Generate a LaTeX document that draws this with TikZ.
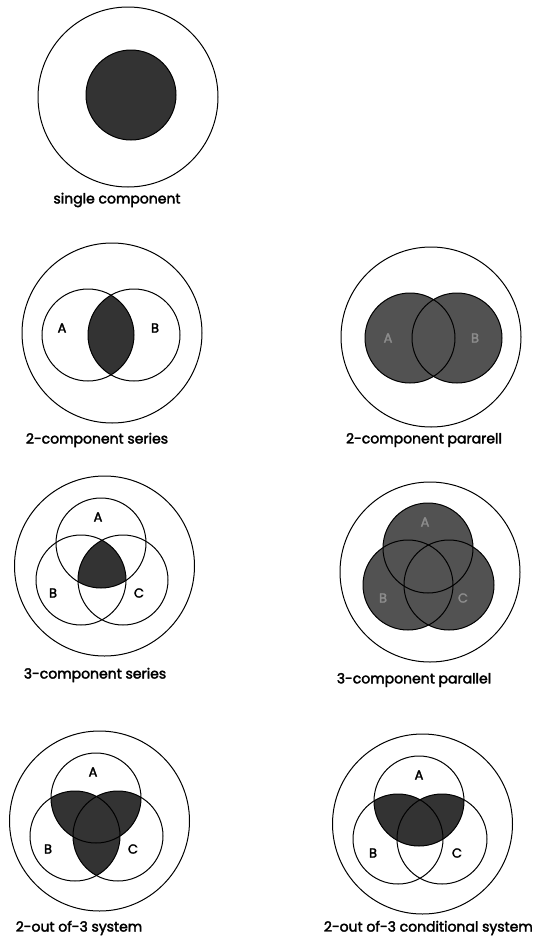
\documentclass[tikz,border=0pt]{standalone}
\usepackage{fontspec}
\setmainfont{Poppins}[UprightFeatures={FakeBold=2.5}]
\tikzset{
  ring/.style={draw=black, line width=1pt},
  dk/.style={fill=black!80},
  md/.style={fill=black!68},
  captext/.style={font=\fontsize{14}{16}\selectfont, inner sep=0pt},
  lettext/.style={font=\fontsize{13}{14}\selectfont, inner sep=0pt},
}
\begin{document}
\begin{tikzpicture}[x=1pt,y=-1pt]
\useasboundingbox (0,0) rectangle (535,937);

% ---------- single component
\coordinate (sO) at (128,97);
\coordinate (sI) at (131,95);
\fill[dk] (sI) circle[radius=45pt];
\draw[ring] (sO) circle[radius=90pt];
\draw[ring] (sI) circle[radius=45pt];
\node[captext] (sL) at (117,200) {single component};

% ---------- 2-component series
\coordinate (aO) at (112,333);
\coordinate (aA) at (88,335);
\coordinate (aB) at (134,335);
\begin{scope}
  \clip (aA) circle[radius=46pt];
  \fill[dk] (aB) circle[radius=46pt];
\end{scope}
\draw[ring] (aO) circle[radius=90pt];
\draw[ring] (aA) circle[radius=46pt];
\draw[ring] (aB) circle[radius=46pt];
\node[lettext] (aLA) at (62,328) {A};
\node[lettext] (aLB) at (155,328) {B};
\node[captext] (aL) at (97,440) {2-component series};

% ---------- 2-component parallel
\coordinate (bO) at (431,337);
\coordinate (bA) at (410,338);
\coordinate (bB) at (457,338);
\fill[md] (bA) circle[radius=45pt];
\fill[md] (bB) circle[radius=45pt];
\draw[ring] (bO) circle[radius=90pt];
\draw[ring] (bA) circle[radius=45pt];
\draw[ring] (bB) circle[radius=45pt];
\node[lettext, text=black!45] (bLA) at (388,338) {A};
\node[lettext, text=black!45] (bLB) at (475,338) {B};
\node[captext] (bL) at (424,440) {2-component pararell};

% ---------- 3-component series
\coordinate (cO) at (104.5,566);
\coordinate (cA) at (101,543);
\coordinate (cB) at (81,580);
\coordinate (cC) at (123,580);
\begin{scope}
  \clip (cA) circle[radius=45pt];
  \clip (cB) circle[radius=45pt];
  \fill[dk] (cC) circle[radius=45pt];
\end{scope}
\draw[ring] (cO) circle[radius=90pt];
\draw[ring] (cA) circle[radius=45pt];
\draw[ring] (cB) circle[radius=45pt];
\draw[ring] (cC) circle[radius=45pt];
\node[lettext] (cLA) at (98,517) {A};
\node[lettext] (cLB) at (53,593) {B};
\node[lettext] (cLC) at (139,593) {C};
\node[captext] (cL) at (95,675) {3-component series};

% ---------- 3-component parallel
\coordinate (dO) at (430,572);
\coordinate (dA) at (428,548);
\coordinate (dB) at (408,585);
\coordinate (dC) at (449,585);
\fill[md] (dA) circle[radius=45pt];
\fill[md] (dB) circle[radius=45pt];
\fill[md] (dC) circle[radius=45pt];
\draw[ring] (dO) circle[radius=90pt];
\draw[ring] (dA) circle[radius=45pt];
\draw[ring] (dB) circle[radius=45pt];
\draw[ring] (dC) circle[radius=45pt];
\node[lettext, text=black!45] (dLA) at (425,522) {A};
\node[lettext, text=black!45] (dLB) at (383,598) {B};
\node[lettext, text=black!45] (dLC) at (463,598) {C};
\node[captext] (dL) at (414,680) {3-component parallel};

% ---------- 2-out of-3 system
\coordinate (eO) at (99.5,821);
\coordinate (eA) at (96,798);
\coordinate (eB) at (75,836);
\coordinate (eC) at (118,836);
\begin{scope}
  \clip (eA) circle[radius=45pt];
  \fill[dk] (eB) circle[radius=45pt];
  \fill[dk] (eC) circle[radius=45pt];
\end{scope}
\begin{scope}
  \clip (eB) circle[radius=45pt];
  \fill[dk] (eC) circle[radius=45pt];
\end{scope}
\draw[ring] (eO) circle[radius=90pt];
\draw[ring] (eA) circle[radius=45pt];
\draw[ring] (eB) circle[radius=45pt];
\draw[ring] (eC) circle[radius=45pt];
\node[lettext] (eLA) at (93,772) {A};
\node[lettext] (eLB) at (48,849) {B};
\node[lettext] (eLC) at (133,849) {C};
\node[captext] (eL) at (79,928) {2-out of-3 system};

% ---------- 2-out of-3 conditional system
\coordinate (fO) at (422.5,824);
\coordinate (fA) at (419,801);
\coordinate (fB) at (398,839);
\coordinate (fC) at (442,839);
\begin{scope}
  \clip (fA) circle[radius=45pt];
  \fill[dk] (fB) circle[radius=45pt];
  \fill[dk] (fC) circle[radius=45pt];
\end{scope}
\draw[ring] (fO) circle[radius=90pt];
\draw[ring] (fA) circle[radius=45pt];
\draw[ring] (fB) circle[radius=45pt];
\draw[ring] (fC) circle[radius=45pt];
\node[lettext] (fLA) at (419,775) {A};
\node[lettext] (fLB) at (373,853) {B};
\node[lettext] (fLC) at (457,853) {C};
\node[captext, anchor=east] (fL) at (533,928) {2-out of-3 conditional system};
\end{tikzpicture}
\end{document}
